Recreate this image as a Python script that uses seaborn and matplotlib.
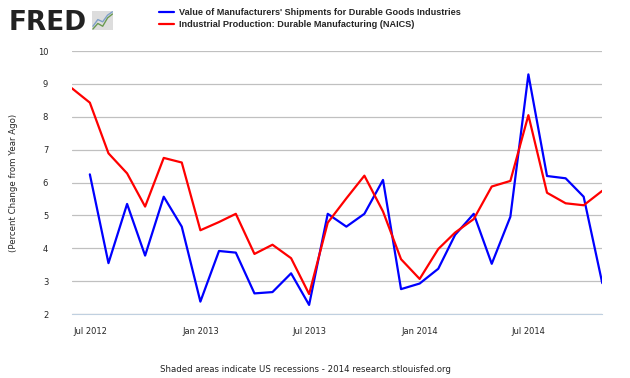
import numpy as np
import pandas as pd
from matplotlib import pyplot as plt
import seaborn as sns

sns.set_style("white")
plt.rcParams['font.family'] = ['DejaVu Sans']

# Percent change from year ago, monthly
ip_dates = pd.date_range("2012-06-01", "2014-11-01", freq="MS")
ip_values = [8.87, 8.43, 6.89, 6.28, 5.27, 6.75, 6.61,
             4.55, 4.80, 5.05, 3.83, 4.11, 3.70, 2.61, 4.78, 5.52, 6.21, 5.12, 3.67,
             3.07, 3.98, 4.48, 4.89, 5.88, 6.05, 8.05, 5.69, 5.37, 5.31, 5.75]

ship_dates = pd.date_range("2012-07-01", "2014-11-01", freq="MS")
ship_values = [6.25, 3.55, 5.35, 3.78, 5.57, 4.66,
               2.38, 3.92, 3.87, 2.63, 2.67, 3.24, 2.28, 5.05, 4.66, 5.05, 6.08, 2.76,
               2.93, 3.38, 4.41, 5.05, 3.53, 4.96, 9.29, 6.20, 6.13, 5.57, 2.94]

ship_label = "Value of Manufacturers' Shipments for Durable Goods Industries"
ip_label = "Industrial Production: Durable Manufacturing (NAICS)"

tick_dates = pd.to_datetime(["2012-07-01", "2013-01-01", "2013-07-01", "2014-01-01", "2014-07-01"])
tick_labels = ["Jul 2012", "Jan 2013", "Jul 2013", "Jan 2014", "Jul 2014"]

fig = plt.figure(figsize=(6.3, 3.78), dpi=100)
ax = fig.add_axes([0.114, 0.169, 0.842, 0.696])

sns.lineplot(x=ship_dates, y=ship_values, ax=ax, color="#0000ff", linewidth=1.6, label=ship_label)
sns.lineplot(x=ip_dates, y=ip_values, ax=ax, color="#ff0000", linewidth=1.6, label=ip_label)

ax.set_xlim(ip_dates[0], ip_dates[-1])
ax.set_ylim(2, 10)
ax.set_yticks(range(2, 11))
ax.yaxis.grid(True, color="#c0c0c0", linewidth=0.9)
ax.set_axisbelow(True)
for s in ["top", "right", "left"]:
    ax.spines[s].set_visible(False)
ax.spines["bottom"].set_color("#c0d0e0")
ax.set_xticks(tick_dates)
ax.set_xticklabels(tick_labels)
ax.tick_params(axis="x", length=7, color="#c0d0e0", labelsize=6, pad=2)
ax.tick_params(axis="y", length=0, labelsize=6, pad=17)
ax.set_ylabel("(Percent Change from Year Ago)", fontsize=6.2, labelpad=14)
ax.set_xlabel("")

handles, labels = ax.get_legend_handles_labels()
ax.get_legend().remove()
fig.legend(handles, labels, loc="upper left", bbox_to_anchor=(0.24, 1.0), frameon=False,
           handlelength=1.6, handletextpad=0.5, labelspacing=0.35,
           prop={"family": "Liberation Sans", "weight": "bold", "size": 6.6})

# FRED logo
fig.text(0.014, 0.92, "FRED", fontsize=19, fontweight="heavy", color="#222222")
logo = fig.add_axes([0.146, 0.921, 0.034, 0.05])
logo.set_facecolor("#dddddd")
logo.plot([0, 1, 2, 3, 4], [0.5, 1.5, 1.0, 2.5, 3.2], color="#6a9a50", linewidth=1)
logo.plot([0, 1, 2, 3, 4], [1.0, 2.2, 1.8, 3.0, 3.6], color="#7fa0c8", linewidth=1)
logo.set_xticks([]); logo.set_yticks([])
for s in logo.spines.values():
    s.set_visible(False)

fig.text(0.485, 0.015, "Shaded areas indicate US recessions - 2014 research.stlouisfed.org",
         ha="center", fontsize=6.2, color="#222222")

fig.savefig("out.png", dpi=100)
